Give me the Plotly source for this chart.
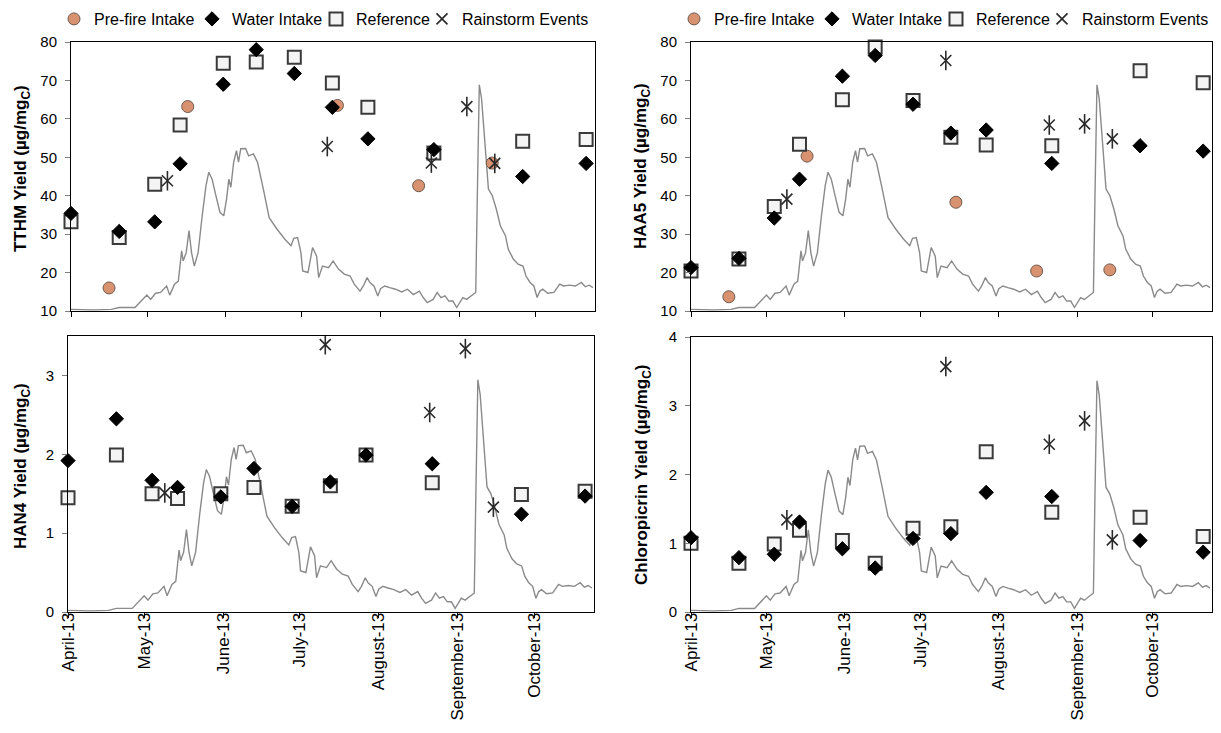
import pandas as pd
import plotly.graph_objects as go

# ---------------- data ----------------
sample_dates = ["2013-04-01", "2013-04-20", "2013-05-04", "2013-05-14", "2013-05-31", "2013-06-13",
                "2013-06-28", "2013-07-13", "2013-07-27", "2013-08-22", "2013-09-26", "2013-10-21"]
prefire_dates = ["2013-04-16", "2013-05-17", "2013-07-15", "2013-08-16", "2013-09-14"]
rain_dates = ["2013-05-09", "2013-07-11", "2013-08-21", "2013-09-04", "2013-09-15"]

tthm_prefire = [16.0, 63.2, 63.5, 42.6, 48.5]
tthm_water = [35.4, 30.7, 33.2, 48.3, 69.0, 78.0, 71.8, 63.0, 54.8, 52.0, 45.0, 48.4]
tthm_ref = [33.2, 29.1, 43.0, 58.4, 74.5, 74.8, 76.0, 69.3, 63.0, 51.1, 54.2, 54.6]
tthm_rain = [43.9, 52.8, 48.5, 63.2, 48.4]

haa5_prefire = [13.7, 50.3, 38.3, 20.4, 20.7]
haa5_water = [21.3, 23.7, 34.2, 44.3, 71.1, 76.5, 63.8, 56.3, 57.1, 48.4, 53.0, 51.6]
haa5_ref = [20.4, 23.5, 37.2, 53.4, 65.0, 78.7, 64.8, 55.2, 53.2, 53.0, 72.5, 69.4]
haa5_rain = [39.1, 75.2, 58.4, 58.7, 54.8]

han4_water = [1.92, 2.45, 1.67, 1.58, 1.46, 1.82, 1.34, 1.65, 1.99, 1.88, 1.24, 1.47]
han4_ref = [1.45, 1.99, 1.50, 1.44, 1.50, 1.58, 1.34, 1.60, 1.99, 1.64, 1.49, 1.53]
han4_rain = [1.51, 3.39, 2.53, 3.34, 1.33]

chloro_water = [1.08, 0.79, 0.84, 1.31, 0.92, 0.64, 1.07, 1.14, 1.74, 1.68, 1.04, 0.87]
chloro_ref = [1.00, 0.71, 0.99, 1.19, 1.04, 0.71, 1.22, 1.24, 2.33, 1.45, 1.38, 1.10]
chloro_rain = [1.34, 3.57, 2.44, 2.78, 1.05]

# streamflow (relative, % of secondary axis), days after 2013-04-01
flow_day = [0, 8.9, 15.9, 19, 25.2, 27.5, 29.9, 31.4, 33.3, 35.3, 37.7, 38.9, 40.8, 42.3, 43.6, 44.2,
            45.4, 46.5, 47.5, 48.6, 50.1, 51.7, 53.2, 54.3, 55.6, 57.1, 58.7, 60.2, 61.3, 62.2, 63.0,
            64.1, 65.2, 66.0, 66.9, 68.8, 70.0, 71.9, 73.5, 75.8, 78.1, 81.2, 84.3, 86.7, 87.8, 89.3,
            90.6, 91.3, 93.4, 95.2, 96.8, 97.6, 99.1, 101.5, 103.3, 105.4, 107.7, 110.0, 111.6, 113.9,
            115.2, 116.7, 117.8, 119.4, 120.9, 122.0, 123.6, 125.6, 127.9, 130.3, 132.6, 134.9, 137.3,
            138.8, 140.4, 142.7, 144.3, 145.8, 147.4, 148.9, 150.5, 152.0, 152.8, 154.4, 155.9, 158.3,
            159.5, 160.1, 160.9, 161.8, 162.9, 164.5, 166.0, 167.6, 169.2, 171.2, 172.3, 174.3, 176.2,
            178.1, 179.3, 180.9, 182.4, 183.7, 184.8, 185.9, 187.9, 190.3, 192.6, 194.1, 196.4, 198.8,
            201.1, 202.7, 204.2, 205.7]
flow_pct = [0.6, 0.4, 0.6, 1.3, 1.3, 3.7, 5.9, 4.3, 6.6, 6.9, 9.3, 5.9, 10.0, 11.1, 22.4, 18.6,
            21.7, 29.9, 21.7, 16.7, 21.7, 35.4, 46.6, 51.6, 49.0, 42.9, 36.7, 35.4, 41.6, 49.0, 46.0,
            55.3, 59.6, 55.3, 60.3, 60.4, 57.7, 58.4, 55.3, 45.3, 34.7, 30.4, 26.7, 24.3, 27.0, 27.3,
            21.7, 14.9, 14.3, 23.6, 20.4, 12.4, 16.7, 16.1, 18.6, 15.6, 13.7, 13.0, 10.0, 7.4,
            9.3, 12.4, 10.6, 9.3, 5.6, 8.3, 9.3, 8.7, 8.1, 7.1, 8.1, 6.1, 7.4,
            5.0, 3.1, 4.3, 6.9, 5.0, 5.6, 3.7, 3.7, 1.3, 2.4, 5.0, 4.3, 6.1,
            6.9, 41.6, 84.1, 78.9, 64.0, 45.3, 42.9, 37.9, 31.7, 28.0, 23.0, 19.3, 17.4,
            16.7, 13.0, 10.6, 9.3, 5.0, 7.4, 8.1, 6.6, 6.9, 10.0, 9.3, 9.6, 9.3,
            10.6, 9.0, 9.6, 8.7]

month_ticks = ["2013-04-01", "2013-05-01", "2013-06-01", "2013-07-01", "2013-08-01", "2013-09-01", "2013-10-01"]
month_labels = ["April-13", "May-13", "June-13", "July-13", "August-13", "September-13", "October-13"]

ytitles = ["<b>TTHM Yield (µg/mg<sub>C</sub>)</b>", "<b>HAA5 Yield (µg/mg<sub>C</sub>)</b>",
           "<b>HAN4 Yield (µg/mg<sub>C</sub>)</b>", "<b>Chloropicrin Yield (µg/mg<sub>C</sub>)</b>"]

flow_dates = pd.Timestamp("2013-04-01") + pd.to_timedelta(flow_day, unit="D")

FONT = "Liberation Sans, Arial, sans-serif"
OFF = 8                      # default page (body) margin of the html page
W, H = 1221 - 2 * OFF, 733 - 2 * OFF

panels = [
    dict(xa="x", yb="y", yv="y5", pre=tthm_prefire, water=tthm_water, ref=tthm_ref, rain=tthm_rain,
         legend="legend", showleg=True),
    dict(xa="x2", yb="y2", yv="y6", pre=haa5_prefire, water=haa5_water, ref=haa5_ref, rain=haa5_rain,
         legend="legend2", showleg=True),
    dict(xa="x3", yb="y3", yv="y7", pre=None, water=han4_water, ref=han4_ref, rain=han4_rain,
         legend="legend", showleg=False),
    dict(xa="x4", yb="y4", yv="y8", pre=None, water=chloro_water, ref=chloro_ref, rain=chloro_rain,
         legend="legend", showleg=False),
]

fig = go.Figure()
for p in panels:
    fig.add_trace(go.Scatter(x=flow_dates, y=flow_pct, mode="lines", xaxis=p["xa"], yaxis=p["yb"],
                             line=dict(color="#8a8a8a", width=1.4), showlegend=False, hoverinfo="skip"))
    if p["pre"] is not None:
        fig.add_trace(go.Scatter(x=prefire_dates, y=p["pre"], mode="markers", name="Pre-fire Intake",
                                 xaxis=p["xa"], yaxis=p["yv"], legend=p["legend"], legendrank=1,
                                 legendwidth=93, showlegend=p["showleg"], cliponaxis=False,
                                 marker=dict(symbol="circle", size=12, color="#D8926F",
                                             line=dict(color="#6e5a50", width=1))))
    fig.add_trace(go.Scatter(x=sample_dates, y=p["ref"], mode="markers", name="Reference",
                             xaxis=p["xa"], yaxis=p["yv"], legend=p["legend"], legendrank=3,
                             legendwidth=61, showlegend=p["showleg"], cliponaxis=False,
                             marker=dict(symbol="square", size=13, color="#f4f4f4",
                                         line=dict(color="#3a3a3a", width=2))))
    fig.add_trace(go.Scatter(x=sample_dates, y=p["water"], mode="markers", name="Water Intake",
                             xaxis=p["xa"], yaxis=p["yv"], legend=p["legend"], legendrank=2,
                             legendwidth=79, showlegend=p["showleg"], cliponaxis=False,
                             marker=dict(symbol="diamond", size=11, color="black",
                                         line=dict(color="black", width=1))))
    fig.add_trace(go.Scatter(x=rain_dates, y=p["rain"], mode="markers", name="Rainstorm Events",
                             xaxis=p["xa"], yaxis=p["yv"], legend=p["legend"], legendrank=4,
                             legendwidth=126, showlegend=p["showleg"], cliponaxis=False,
                             marker=dict(symbol="x-thin-open", size=11, color="#2a2a2a",
                                         line=dict(color="#2a2a2a", width=1.6))))
    fig.add_trace(go.Scatter(x=rain_dates, y=p["rain"], mode="markers", name="Rainstorm Events",
                             xaxis=p["xa"], yaxis=p["yv"], showlegend=False, cliponaxis=False,
                             marker=dict(symbol="line-ns-open", size=14, color="#2a2a2a",
                                         line=dict(color="#2a2a2a", width=1.6))))


def fx(a, b):
    return [(a - OFF) / W, (b - OFF) / W]


def fy(top, bottom):
    return [1 - (bottom - OFF) / H, 1 - (top - OFF) / H]


xdom = [fx(71, 595), fx(691, 1212), fx(68, 594), fx(691, 1212)]
ydom = [fy(42, 311), fy(42, 311), fy(336, 612), fy(337, 612)]
yranges = [[10, 80], [10, 80], [0, 3.5], [0, 4]]
ytickvals = [[10, 20, 30, 40, 50, 60, 70, 80], [10, 20, 30, 40, 50, 60, 70, 80], [0, 1, 2, 3], [0, 1, 2, 3, 4]]
title_pos = [(22, 169), (642, 166), (22, 466), (643, 475)]

layout = dict(
    width=W, height=H, template="none", paper_bgcolor="white", plot_bgcolor="rgba(0,0,0,0)",
    margin=dict(l=0, r=0, t=0, b=0, autoexpand=False), font=dict(family=FONT, size=15, color="black"),
    legend=dict(orientation="h", x=(54 - OFF) / W, xanchor="left", y=1 - (19 - OFF) / H, yanchor="middle",
                font=dict(size=16, family=FONT), bgcolor="rgba(0,0,0,0)", itemwidth=30,
                traceorder="normal"),
    legend2=dict(orientation="h", x=(674 - OFF) / W, xanchor="left", y=1 - (19 - OFF) / H, yanchor="middle",
                 font=dict(size=16, family=FONT), bgcolor="rgba(0,0,0,0)", itemwidth=30,
                 traceorder="normal"),
    showlegend=True,
    annotations=[dict(text=ytitles[i], textangle=-90, xref="paper", yref="paper",
                      x=(title_pos[i][0] - OFF) / W, y=1 - (title_pos[i][1] - OFF) / H, xanchor="center",
                      yanchor="middle", showarrow=False, font=dict(size=17, family=FONT, color="black"))
                 for i in range(4)],
)
for i in range(4):
    xn = "xaxis" if i == 0 else f"xaxis{i + 1}"
    yb = "yaxis" if i == 0 else f"yaxis{i + 1}"
    yv = f"yaxis{i + 5}"
    base_y = "y" if i == 0 else f"y{i + 1}"
    xid = "x" if i == 0 else f"x{i + 1}"
    bottom = i >= 2
    layout[xn] = dict(domain=xdom[i], anchor=base_y, type="date",
                      range=["2013-04-01", "2013-10-24 12:00"],
                      tickvals=month_ticks, ticktext=month_labels, showticklabels=bottom,
                      tickangle=-90, tickfont=dict(size=17, family=FONT), ticklabelstandoff=-12,
                      ticks="outside", ticklen=5, tickcolor="black", tickwidth=1,
                      showline=True, linecolor="black", linewidth=1, mirror=True,
                      showgrid=False, zeroline=False, automargin=False)
    layout[yb] = dict(domain=ydom[i], anchor=xid, range=[0, 100], visible=False,
                      showgrid=False, zeroline=False)
    layout[yv] = dict(overlaying=base_y, anchor=xid, side="left", range=yranges[i],
                      tickvals=ytickvals[i], ticks="outside", ticklen=5, tickcolor="#808080",
                      tickfont=dict(size=15, family=FONT), ticklabelstandoff=5,
                      showline=True, linecolor="black", linewidth=1, mirror=True,
                      showgrid=False, zeroline=False, automargin=False)

fig.update_layout(**layout)
fig.write_html("out.html")
